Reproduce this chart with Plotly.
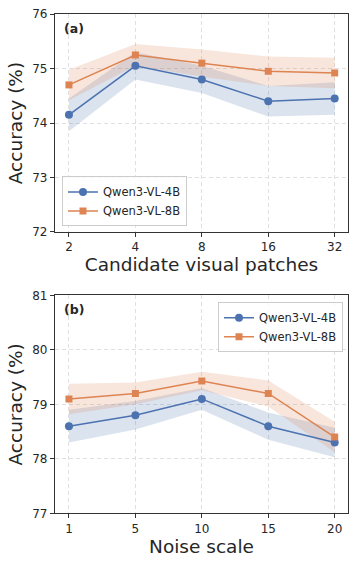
import plotly.graph_objects as go

# Panel (a)
patches = ["2", "4", "8", "16", "32"]
a_4b = [74.15, 75.05, 74.8, 74.4, 74.45]
a_4b_err = [0.3, 0.25, 0.25, 0.28, 0.3]
a_8b = [74.7, 75.25, 75.1, 74.95, 74.92]
a_8b_err = [0.28, 0.2, 0.25, 0.27, 0.28]

# Panel (b)
noise = ["1", "5", "10", "15", "20"]
b_4b = [78.6, 78.8, 79.1, 78.6, 78.3]
b_4b_err = [0.3, 0.26, 0.2, 0.25, 0.27]
b_8b = [79.1, 79.2, 79.43, 79.2, 78.4]
b_8b_err = [0.28, 0.2, 0.17, 0.24, 0.28]

BLUE = "#4C72B0"
ORANGE = "#DD8452"
BLUE_F = "rgba(76,114,176,0.2)"
ORANGE_F = "rgba(221,132,82,0.2)"
TXT = "#262626"
W, H = 349, 563

fig = go.Figure()

def add_panel(xs, s4, e4, s8, e8, xa, ya, legend):
    for s, e, fillc in ((s4, e4, BLUE_F), (s8, e8, ORANGE_F)):
        up = [v + d for v, d in zip(s, e)]
        lo = [v - d for v, d in zip(s, e)]
        fig.add_trace(go.Scatter(x=xs, y=up, mode="lines", line=dict(width=0),
                                 showlegend=False, hoverinfo="skip", xaxis=xa, yaxis=ya))
        fig.add_trace(go.Scatter(x=xs, y=lo, mode="lines", line=dict(width=0),
                                 fill="tonexty", fillcolor=fillc,
                                 showlegend=False, hoverinfo="skip", xaxis=xa, yaxis=ya))
    fig.add_trace(go.Scatter(x=xs, y=s4, mode="lines+markers", name="Qwen3-VL-4B",
                             line=dict(color=BLUE, width=1.5),
                             marker=dict(symbol="circle", size=8, color=BLUE),
                             xaxis=xa, yaxis=ya, legend=legend))
    fig.add_trace(go.Scatter(x=xs, y=s8, mode="lines+markers", name="Qwen3-VL-8B",
                             line=dict(color=ORANGE, width=1.5),
                             marker=dict(symbol="square", size=7, color=ORANGE),
                             xaxis=xa, yaxis=ya, legend=legend))

add_panel(patches, a_4b, a_4b_err, a_8b, a_8b_err, "x", "y", "legend")
add_panel(noise, b_4b, b_4b_err, b_8b, b_8b_err, "x2", "y2", "legend2")

x0, x1 = 55 / W, 348 / W
axis_common = dict(showline=True, linecolor="#333333", linewidth=1.2, mirror=True,
                   ticks="outside", ticklen=4, tickcolor="#333333", tickwidth=1,
                   showgrid=True, gridcolor="#e0e0e0", griddash="4px,3px", gridwidth=0.8,
                   tickfont=dict(size=12, color=TXT, family="DejaVu Sans"),
                   zeroline=False)
TFONT = dict(size=18.5, color=TXT, family="DejaVu Sans")

fig.update_layout(
    width=W, height=H, margin=dict(l=0, r=0, t=0, b=0),
    plot_bgcolor="white", paper_bgcolor="white",
    font=dict(family="DejaVu Sans", color=TXT),
    xaxis=dict(domain=[x0, x1], type="category", range=[-0.21, 4.2], anchor="y",
               title=dict(text="Candidate visual patches", font=TFONT, standoff=2),
               **axis_common),
    yaxis=dict(domain=[1 - 230.7 / H, 1 - 7.3 / H], range=[72, 76], dtick=1, anchor="x",
               title=dict(text="Accuracy (%)", font=TFONT, standoff=4),
               **axis_common),
    xaxis2=dict(domain=[x0, x1], type="category", range=[-0.21, 4.2], anchor="y2",
                title=dict(text="Noise scale", font=TFONT, standoff=2),
                **axis_common),
    yaxis2=dict(domain=[1 - 519.3 / H, 1 - 295.7 / H], range=[77, 81], dtick=1, anchor="x2",
                title=dict(text="Accuracy (%)", font=TFONT, standoff=4),
                **axis_common),
    legend=dict(x=62 / W, y=1 - 225 / H, xanchor="left", yanchor="bottom",
                traceorder="normal",
                bgcolor="rgba(255,255,255,0.8)", bordercolor="#cccccc", borderwidth=1,
                font=dict(size=11.5, color=TXT)),
    legend2=dict(x=343 / W, y=1 - 302.7 / H, xanchor="right", yanchor="top",
                 traceorder="normal",
                 bgcolor="rgba(255,255,255,0.8)", bordercolor="#cccccc", borderwidth=1,
                 font=dict(size=11.5, color=TXT)),
    annotations=[
        dict(text="<b>(a)</b>", x=62 / W, y=1 - 22 / H, xref="paper", yref="paper",
             xanchor="left", yanchor="middle", showarrow=False, font=dict(size=12.5, color=TXT)),
        dict(text="<b>(b)</b>", x=62 / W, y=1 - 310 / H, xref="paper", yref="paper",
             xanchor="left", yanchor="middle", showarrow=False, font=dict(size=12.5, color=TXT)),
    ],
)

fig.write_html("out.html", config={"displayModeBar": False},
               post_script="document.body.style.margin='0';")
